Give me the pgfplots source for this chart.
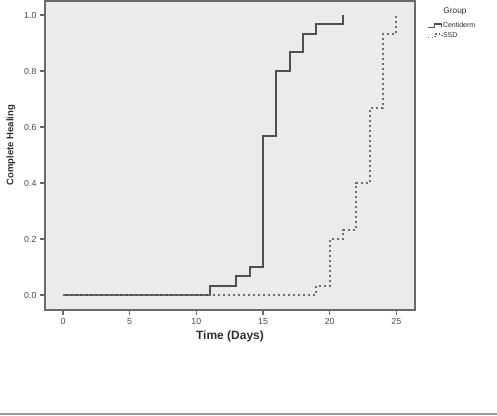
\documentclass[border=0pt]{standalone}
\usepackage{pgfplots}
\pgfplotsset{compat=1.18}
\usepackage{fontspec}
\setmainfont{Liberation Sans}
\definecolor{bgc}{HTML}{EBEBEB}
\definecolor{framec}{HTML}{6A6A6A}
\definecolor{tickc}{HTML}{4A4A4A}
\definecolor{labc}{HTML}{2E2E2E}
\definecolor{linec}{HTML}{505050}
\definecolor{dotc}{HTML}{6E6E6E}
\begin{document}
\begin{tikzpicture}[x=1pt,y=1pt]
\useasboundingbox (0,0) rectangle (497,415);
\draw[gray!80, line width=1.2pt] (0,1) -- (497,1);
\begin{axis}[
  at={(45pt,105pt)}, anchor=south west,
  scale only axis, width=370pt, height=309pt,
  xmin=-1.35, xmax=26.4, ymin=-0.0536, ymax=1.05,
  axis background/.style={fill=bgc},
  axis line style={draw=framec, line width=1.7pt},
  xtick={0,5,...,25}, ytick={0,0.2,0.4,0.6,0.8,1.0},
  tick align=outside, major tick length=5pt,
  tick style={framec, line width=1.4pt},
  xtick pos=bottom, ytick pos=left,
  yticklabel style={/pgf/number format/.cd, fixed, fixed zerofill, precision=1},
  ticklabel style={font=\fontsize{8.8}{10}\selectfont, text=tickc},
  /pgf/number format/assume math mode=true,
  xlabel={Time (Days)}, ylabel={Complete Healing},
  xlabel style={font=\bfseries\fontsize{12}{13}\selectfont, text=labc,
    at={(axis description cs:0.5,-0.087)}, anchor=center},
  ylabel style={font=\bfseries\fontsize{9.5}{10}\selectfont, text=labc,
    at={(axis description cs:-0.092,0.534)}, anchor=center},
  legend style={draw=none, fill=none, inner sep=0pt, outer sep=0pt,
    font=\fontsize{7}{7.5}\selectfont, text=labc, row sep=2.5pt,
    at={(axis description cs:1.033,0.932)}, anchor=north west,
    nodes={inner sep=0.5pt}},
  legend cell align=left,
  clip=false,
]
\addplot[const plot, color=linec, line width=1.8pt,
  legend image code/.code={\draw[linec, line width=1.1pt] (0pt,-1.8pt) -- (7pt,-1.8pt) -- (7pt,1.8pt) -- (14pt,1.8pt) -- (14pt,-0.8pt);}]
  coordinates {(0,0) (11,0.0333) (13,0.0667) (14,0.1) (15,0.5667) (16,0.8) (17,0.8667) (18,0.9333) (19,0.9667) (21,1.0)};
\addlegendentry{Centiderm}
\addplot[const plot, color=dotc, line width=2pt, dash pattern=on 2pt off 3pt,
  legend image code/.code={\draw[dotc, line width=1.3pt, dash pattern=on 1.3pt off 2.4pt] (0pt,-1.8pt) -- (7pt,-1.8pt) -- (7pt,1.8pt) -- (14pt,1.8pt) -- (14pt,-0.8pt);}]
  coordinates {(0,0) (19,0.0333) (20,0.2) (21,0.2333) (22,0.4) (23,0.6667) (24,0.9333) (25,1.0)};
\addlegendentry{SSD}
\node[font=\fontsize{8.3}{9}\selectfont, text=labc] at (axis description cs:1.108,0.966) {Group};
\end{axis}
\end{tikzpicture}
\end{document}
